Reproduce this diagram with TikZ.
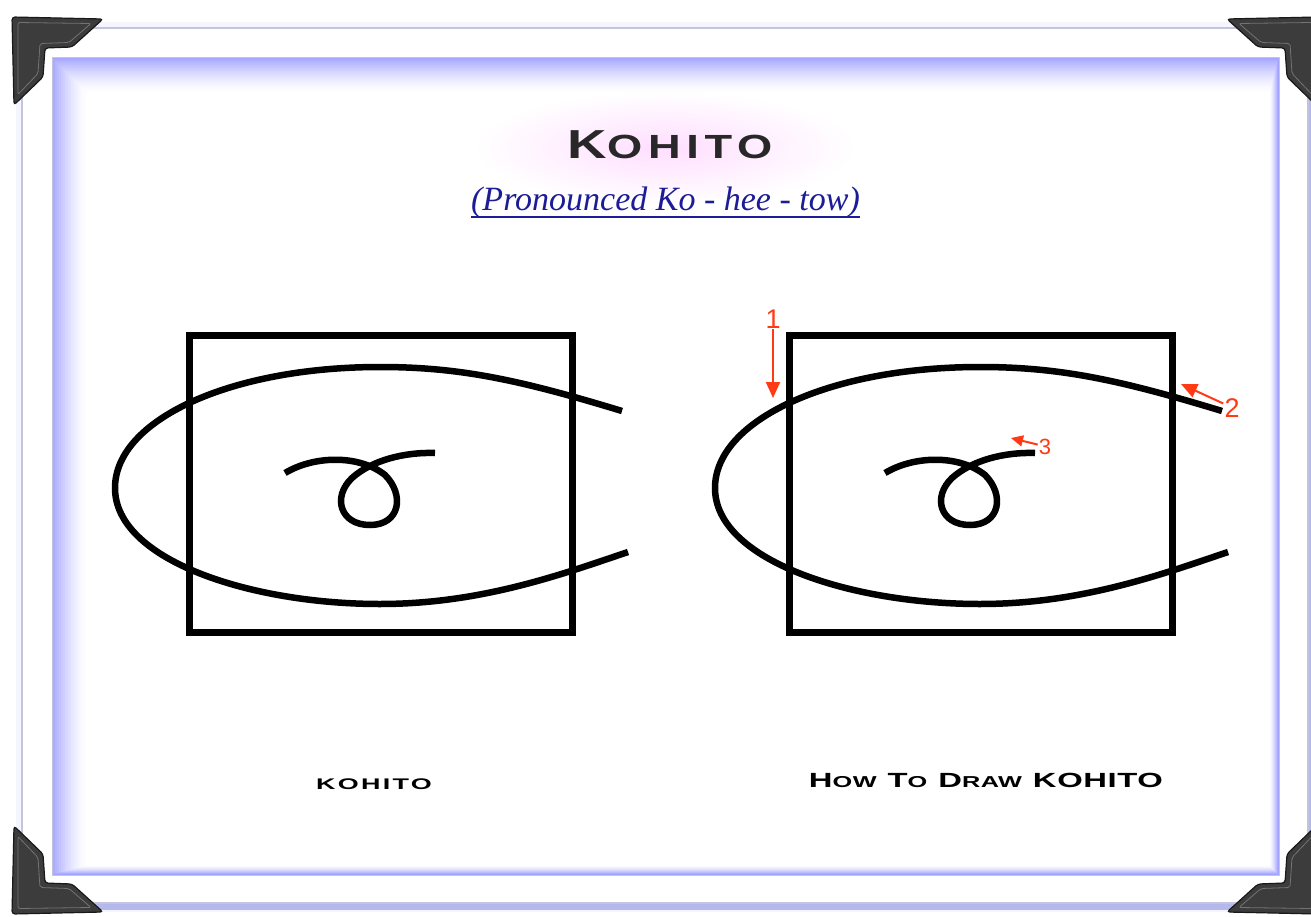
\documentclass[tikz,border=0pt]{standalone}
\usepackage{fontspec}
\setmainfont{Liberation Serif}
\newfontfamily\titlefont[FakeStretch=1.35,LetterSpace=17]{Liberation Sans}
\newfontfamily\labelfont[FakeStretch=1.75,LetterSpace=15]{Liberation Sans}
\newfontfamily\headfont[FakeStretch=1.6,LetterSpace=3]{Liberation Sans}
\newfontfamily\numfont{Liberation Sans}
\usetikzlibrary{arrows.meta, positioning}

\definecolor{arrowred}{HTML}{FF3A14}
\definecolor{navy}{HTML}{1C1C96}
\definecolor{inkgray}{HTML}{282828}
\definecolor{glowblue}{HTML}{A4A4FF}
\definecolor{cardline}{HTML}{C4C4DC}
\definecolor{shadowblue}{HTML}{B4B8EC}
\definecolor{bracketgray}{HTML}{3C3C3C}

\newcommand\capsm[2]{{\fontsize{20.5}{20}\selectfont #1}{\fontsize{15.8}{16}\selectfont #2}}

\begin{document}
\begin{tikzpicture}[
  x=1pt, y=-1pt,
  stroke/.style={line width=6.5pt, black},
  sqframe/.style={line width=7pt, black},
  bracket/.style={fill=bracketgray, draw=black!90, line width=1.2pt, rounded corners=3pt},
  bevel/.style={draw=black!55, line width=0.8pt, rounded corners=2pt},
  num/.style={font=\numfont\fontsize{27}{27}\selectfont, text=arrowred, inner sep=1pt, anchor=base},
  hint/.style={-{Triangle[length=16pt,width=14pt]}, line width=2pt, arrowred},
  smallhint/.style={-{Triangle[length=12pt,width=11pt]}, line width=2pt, arrowred}
]
\useasboundingbox (0,0) rectangle (1311,917);
\fill[white] (0,0) rectangle (1311,917);

% card and shadow
\fill[blue!4] (16,22) rectangle (1316,912);
\fill[shadowblue] (25,31) rectangle (1313,910);
\filldraw[fill=white, draw=cardline, line width=1.5pt] (22,28) rectangle (1308,903);

% inner panel glow
\begin{scope}
  \clip (52,58) rectangle (1279,875);
  \foreach \i in {18,...,0} {
    \pgfmathsetmacro{\pct}{100*(1-\i/18)^1.6}
    \draw[line width=2.4pt, draw=glowblue!\pct!white] (52+2*\i,58+2*\i) rectangle (1279-0.5*\i,875-0.5*\i);
  }
\end{scope}
\draw[cardline, line width=1pt] (52,58) rectangle (1279,875);

% corner brackets
\foreach \sx/\sy in {1/1,-1/1,1/-1,-1/-1} {
  \begin{scope}[shift={(665,465.5)}, xscale=\sx, yscale=\sy]
    \filldraw[bracket] (-653,-448.5) -- (-562,-446.5) -- (-593,-418.5) -- (-620,-417.5) -- (-622,-388.5) -- (-651,-360.5) -- cycle;
    \draw[bevel] (-647,-443) -- (-574,-442) -- (-596,-423) -- (-625,-422) -- (-627,-392) -- (-647,-371) -- cycle;
  \end{scope}
}

% title
\shade[inner color=magenta!13, outer color=white] (665,148) ellipse (190 and 56);
\node[font=\titlefont\bfseries, text=inkgray, anchor=base] (title) at (670,159)
  {\fontsize{40.5}{40}\selectfont K\fontsize{33.5}{33}\selectfont OHITO};
\node[font=\itshape\fontsize{34}{34}\selectfont, text=navy, anchor=base, inner xsep=0pt] (pron) at (665.5,211)
  {(Pronounced Ko - hee - tow)};
\draw[navy, line width=1.3pt] ([yshift=-6pt]pron.base west) -- ([yshift=-6pt]pron.base east);

% drawings
\foreach \ox in {0,600} {
  \begin{scope}[xshift=\ox]
    \draw[sqframe] (189,335) rectangle (572,632);
    \draw[stroke] (622,411) .. controls (520,380) and (460,367) .. (380,367)
      .. controls (230,367) and (115,420) .. (115,488)
      .. controls (115,560) and (250,604) .. (380,604)
      .. controls (480,604) and (560,575) .. (628,552);
    \draw[stroke] (285,473) .. controls (315,455) and (360,455) .. (385,475)
      .. controls (405,495) and (400,525) .. (370,525)
      .. controls (340,525) and (332,497) .. (352,478)
      .. controls (372,460) and (405,452) .. (435,453);
  \end{scope}
}

% stroke order hints
\node[num] (n1) at (773,328) {1};
\node[num] (n2) at (1232,417) {2};
\node[num, font=\numfont\fontsize{22}{22}\selectfont] (n3) at (1045,454) {3};
\coordinate (t1) at (773,398);
\coordinate (t2) at (1181,384);
\coordinate (t3) at (1011,438);
\draw[hint] (n1) -- (t1);
\draw[hint] (n2) -- (t2);
\draw[smallhint] (n3) -- (t3);

% captions
\node[font=\labelfont\bfseries\fontsize{15.4}{15}\selectfont, anchor=base] (capl) at (374,789) {KOHITO};
\node[font=\headfont\bfseries, anchor=base] (capr) at (986,787)
  {\capsm{H}{OW}\hspace{11pt}\capsm{T}{O}\hspace{11pt}\capsm{D}{RAW}\hspace{11pt}\capsm{KOHITO}{}};

\end{tikzpicture}
\end{document}
